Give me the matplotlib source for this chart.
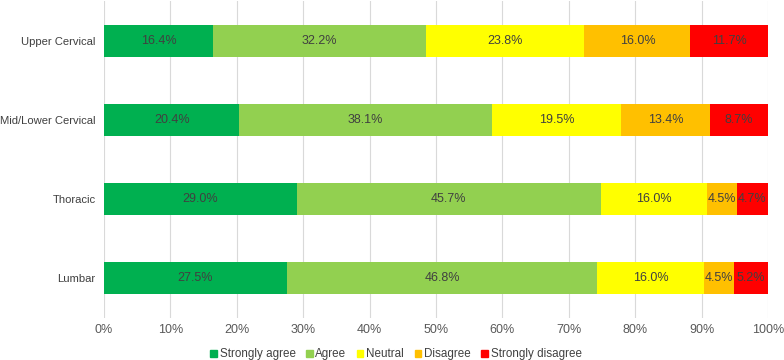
import numpy as np
import matplotlib.pyplot as plt
from matplotlib.patches import Patch

regions = ['Upper Cervical', 'Mid/Lower Cervical', 'Thoracic', 'Lumbar']
responses = ['Strongly agree', 'Agree', 'Neutral', 'Disagree', 'Strongly disagree']
colors = ['#00B050', '#92D050', '#FFFF00', '#FFC000', '#FF0000']

strongly_agree = [16.4, 20.4, 29.0, 27.5]
agree = [32.2, 38.1, 45.7, 46.8]
neutral = [23.8, 19.5, 16.0, 16.0]
disagree = [16.0, 13.4, 4.5, 4.5]
strongly_disagree = [11.7, 8.7, 4.7, 5.2]

plt.rcParams['font.family'] = ['Liberation Sans', 'DejaVu Sans']

data = np.array([strongly_agree, agree, neutral, disagree, strongly_disagree])
# 100% stacked: scale each bar so it ends at 100
widths = data / data.sum(axis=0) * 100

fig = plt.figure(figsize=(7.84, 3.6), dpi=100)
ax = fig.add_axes([0.1327, 0.118, 0.847, 0.878])

y = np.arange(len(regions))
left = np.zeros(len(regions))
for i in range(len(responses)):
    ax.barh(y, widths[i], left=left, height=0.405, color=colors[i], zorder=2)
    for j in range(len(regions)):
        ax.text(left[j] + widths[i][j] / 2, y[j], '%.1f%%' % data[i][j],
                ha='center', va='center', fontsize=9, color='#404040', zorder=3)
    left += widths[i]

ax.set_xlim(0, 100)
ax.set_ylim(len(regions) - 0.5, -0.5)
ax.set_yticks(y)
ax.set_yticklabels(regions, fontsize=8.1, color='#404040')
ax.set_xticks(np.arange(0, 101, 10))
ax.set_xticklabels(['%d%%' % v for v in range(0, 101, 10)], fontsize=9, color='#595959')
ax.tick_params(axis='y', length=0, pad=6)
ax.tick_params(axis='x', length=0, pad=5)
ax.xaxis.grid(True, color='#D9D9D9', linewidth=0.8, zorder=0)
for s in ax.spines.values():
    s.set_visible(False)

handles = [Patch(color=c, label=r) for c, r in zip(colors, responses)]
fig.legend(handles=handles, loc='lower center', bbox_to_anchor=(0.505, -0.03), ncol=5,
           frameon=False, fontsize=8.4, handlelength=0.55, handleheight=0.55,
           handletextpad=0.25, columnspacing=0.9, labelcolor='#404040')

fig.savefig('out.png', dpi=100)
